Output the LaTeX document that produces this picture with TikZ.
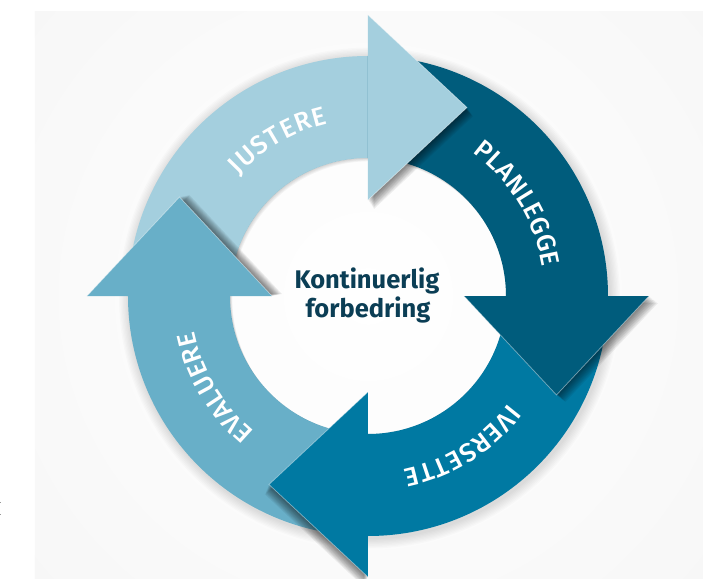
\documentclass[tikz,border=0pt]{standalone}
\usepackage{fontspec}
\setmainfont{Fira Sans}
\newfontfamily\labelfont{Fira Sans Medium}
\usetikzlibrary{decorations.text}
\definecolor{cJust}{HTML}{A4CFDE}
\definecolor{cPlan}{HTML}{005C7C}
\definecolor{cIver}{HTML}{0079A2}
\definecolor{cEval}{HTML}{68AFC8}
\definecolor{cText}{HTML}{0B3E55}
\definecolor{cPanel}{HTML}{F4F4F4}
\newcommand{\bandfill}[3]{\fill[#1] (#2:240pt) arc[start angle=#2,end angle=#3,radius=240pt] -- (#3:138pt) arc[start angle=#3,end angle=#2,radius=138pt] -- cycle;}
\newcommand{\headfill}[2]{%
  \fill[#1,rotate={#2-90}] (0,96) -- (99,188.5) -- (0,281) -- cycle;
  \draw[white,opacity=0.45,line width=0.7pt,rotate={#2-90}] (0,96) -- (99,188.5) -- (0,281);}
\newcommand{\headshadow}[3]{%
  \begin{scope}
    \clip[rotate={#1-90}] (0,40) rectangle (240,345);
    \foreach \k in {1,...,10}{\fill[black,opacity=0.06,shift={(#2*\k,#3*\k)},rotate={#1-90}] (0,96) -- (99,188.5) -- (0,281) -- cycle;}
  \end{scope}}
\tikzset{
  ringlabel/.style={decorate,decoration={text along path,text={|\labelfont\fontsize{26pt}{26pt}\selectfont|#1},text align={fit to path},text color=white}},
  centertext/.style={font=\bfseries\fontsize{25.5pt}{25.5pt}\selectfont,text=cText,anchor=base,inner sep=0pt}
}
\begin{document}
\begin{tikzpicture}[x=1pt,y=1pt]
\useasboundingbox (-368,-283) rectangle (348,296);
% background
\fill[white] (-368,-283) rectangle (348,296);
\fill[cPanel] (-333,-283) rectangle (335,284);
\begin{scope}
  \clip (-333,-283) rectangle (335,284);
  \shade[inner color=white,outer color=cPanel] (0,0) circle (620pt);
\end{scope}
\fill[gray!80] (-368,-206) rectangle (-366.8,-207.4);
\fill[gray!80] (-368,-218) rectangle (-366.8,-219.4);
% outer ring shadow (outside the ring only)
\foreach \k [evaluate=\k as \r using 240+1.3*\k] in {1,...,8}{\fill[black,opacity=0.014,even odd rule] (1.5,-2) circle (\r pt) (0,0) circle (200pt);}
% bands
\bandfill{cJust}{180}{90}
\bandfill{cPlan}{90}{0}
\bandfill{cIver}{0}{-90}
\bandfill{cEval}{-90}{-180}
% inner rim shadow
\begin{scope}
  \clip (0,0) circle (138pt);
  \foreach \k in {1,...,4}{\fill[black,opacity=0.04,even odd rule] (0,0) circle (138pt) (\k*0.6,-\k*0.8) circle (138pt);}
\end{scope}
% head shadows
\headshadow{90}{0.6}{-0.9}
\headshadow{0}{0.9}{-0.7}
\headshadow{-90}{-0.4}{-1.0}
\headshadow{180}{1.0}{0.2}
% heads
\headfill{cJust}{90}
\headfill{cPlan}{0}
\headfill{cIver}{-90}
\headfill{cEval}{180}
% labels
\path[ringlabel=JUSTERE] (137:177pt) arc[start angle=137,end angle=103,radius=177pt];
\path[ringlabel=PLANLEGGE] (54:177pt) arc[start angle=54,end angle=9.5,radius=177pt];
\path[ringlabel=IVERSETTE] (-37.5:177pt) arc[start angle=-37.5,end angle=-78.5,radius=177pt];
\path[ringlabel=EVALUERE] (230:177pt) arc[start angle=230,end angle=191.5,radius=177pt];
% centre text
\node[centertext] (k1) at (-1,8) {Kontinuerlig};
\node[centertext] (k2) at (0,-21) {forbedring};
\end{tikzpicture}
\end{document}
